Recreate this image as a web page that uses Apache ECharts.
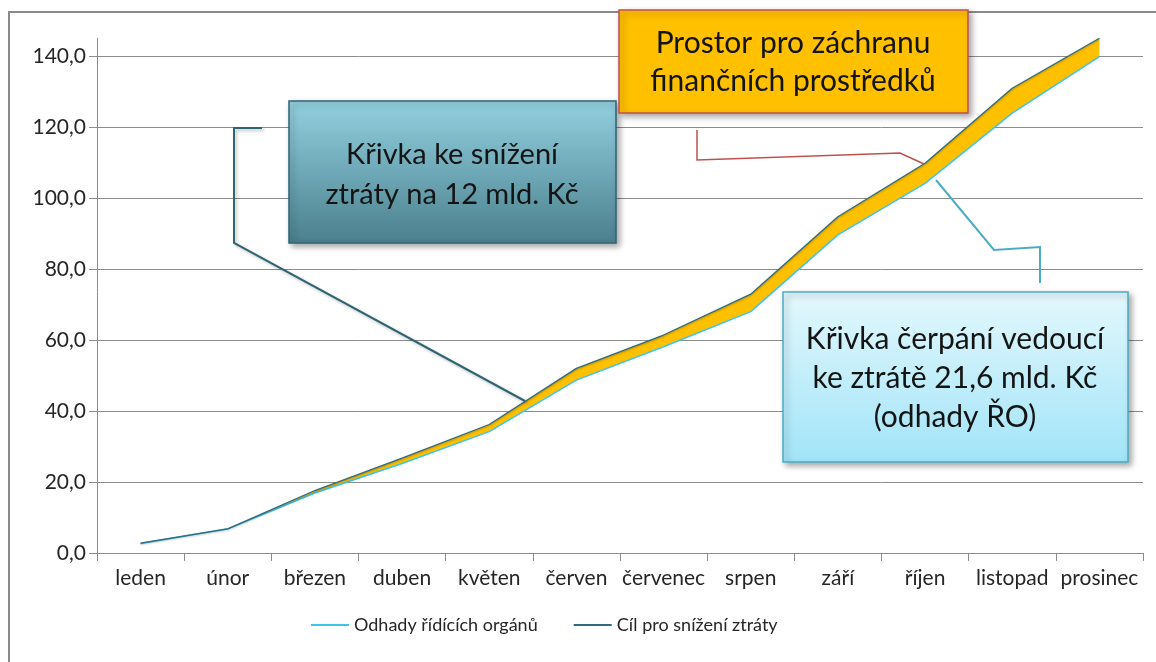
<!DOCTYPE html>
<html>
<head>
<meta charset="utf-8">
<script src="https://cdn.jsdelivr.net/npm/echarts@6/dist/echarts.min.js"></script>
<style>
  html, body { margin: 0; padding: 0; background: #fff; }
  #chart { width: 1156px; height: 662px; }
</style>
</head>
<body>
<div id="chart"></div>
<script>
// months on the x axis
const months = ['leden', 'únor', 'březen', 'duben', 'květen', 'červen', 'červenec', 'srpen', 'září', 'říjen', 'listopad', 'prosinec'];
// Odhady řídících orgánů (lower curve)
const odhady = [2.7, 6.8, 16.9, 25.2, 34.2, 48.7, 58.1, 68.0, 89.6, 104.1, 123.9, 139.8];
// Cíl pro snížení ztráty (upper curve)
const cil = [2.8, 6.8, 17.6, 26.7, 36.2, 52.0, 61.4, 72.9, 94.7, 109.8, 130.9, 145.0];
// y axis
const yTicks = [0, 20, 40, 60, 80, 100, 120, 140];
const yMax = 145;

const FONT = 'Lato';
const axisGrey = '#8c8c8c';
const lightBlue = '#3cc4ee';
const darkTeal = '#2f6b7d';

// yellow band = difference between the two curves, stacked on the lower one
const band = cil.map((v, i) => +(v - odhady[i]).toFixed(2));

const chart = echarts.init(document.getElementById('chart'));

const boxShadow = { shadowBlur: 6, shadowOffsetX: 3, shadowOffsetY: 3, shadowColor: 'rgba(0,0,0,0.35)' };

const option = {
  animation: false,
  grid: { left: 97, right: 13, top: 38.25, bottom: 109 },
  legend: {
    left: 306,
    top: 611,
    data: ['Odhady řídících orgánů', 'Cíl pro snížení ztráty'],
    icon: 'rect',
    itemWidth: 38,
    itemHeight: 2,
    itemGap: 36,
    textStyle: { fontFamily: FONT, fontSize: 18, color: '#262626' }
  },
  xAxis: {
    type: 'category',
    data: months,
    boundaryGap: true,
    axisLine: { lineStyle: { color: axisGrey, width: 1 } },
    axisTick: { show: true, length: 8, lineStyle: { color: axisGrey } },
    axisLabel: { fontFamily: FONT, fontSize: 21, color: '#262626', margin: 15, interval: 0 }
  },
  yAxis: {
    type: 'value',
    min: 0,
    max: yMax,
    axisLine: { show: true, lineStyle: { color: axisGrey, width: 1 } },
    axisTick: { show: true, length: 8, customValues: yTicks, lineStyle: { color: axisGrey } },
    axisLabel: {
      customValues: yTicks,
      fontFamily: FONT, fontSize: 21, color: '#262626', margin: 11,
      formatter: v => v.toFixed(1).replace('.', ',')
    },
    splitLine: { show: true, lineStyle: { color: axisGrey, width: 1 } }
  },
  series: [
    {
      name: 'base',
      type: 'line',
      stack: 'band',
      data: odhady,
      symbol: 'none',
      silent: true,
      lineStyle: { opacity: 0 },
      z: 2
    },
    {
      name: 'band',
      type: 'line',
      stack: 'band',
      data: band,
      symbol: 'none',
      silent: true,
      lineStyle: { opacity: 0 },
      areaStyle: { color: '#ffc000', opacity: 1 },
      z: 2
    },
    {
      name: 'Odhady řídících orgánů',
      type: 'line',
      data: odhady,
      symbol: 'none',
      clip: false,
      lineStyle: { color: lightBlue, width: 1.5 },
      itemStyle: { color: lightBlue },
      z: 3
    },
    {
      name: 'Cíl pro snížení ztráty',
      type: 'line',
      data: cil,
      symbol: 'none',
      clip: false,
      lineStyle: { color: darkTeal, width: 1.3, shadowBlur: 2, shadowColor: 'rgba(0,0,0,0.3)', shadowOffsetY: 1 },
      itemStyle: { color: darkTeal },
      z: 4
    }
  ],
  graphic: [
    // outer chart border
    { type: 'rect', z: -1, silent: true, shape: { x: 9, y: 12, width: 1200, height: 700 },
      style: { fill: 'none', stroke: '#8a8a8a', lineWidth: 2 } },

    // callout: target curve
    { type: 'polyline', z: 20, shape: { points: [[262, 128], [234, 128], [234, 243], [525, 401]] },
      style: { fill: 'none', stroke: '#2e6474', lineWidth: 2, shadowBlur: 3, shadowOffsetX: 2, shadowOffsetY: 2, shadowColor: 'rgba(0,0,0,0.25)' } },
    { type: 'rect', z: 21, shape: { x: 289, y: 101, width: 327, height: 142 },
      style: Object.assign({
        fill: new echarts.graphic.LinearGradient(0, 0, 0, 1, [
          { offset: 0, color: '#93d0df' }, { offset: 0.5, color: '#6fa8b6' }, { offset: 1, color: '#4b7f8d' }
        ]),
        stroke: '#2e6474', lineWidth: 1.5
      }, boxShadow) },
    { type: 'text', z: 22, style: { text: 'Křivka ke snížení\nztráty na 12 mld. Kč', x: 452, y: 175,
      textAlign: 'center', textVerticalAlign: 'middle', font: '29px Lato', lineHeight: 40, fill: '#141414' } },

    // callout: savings space
    { type: 'polyline', z: 20, shape: { points: [[697, 130], [697, 160], [900, 153], [924, 164]] },
      style: { fill: 'none', stroke: '#c0504d', lineWidth: 1.5 } },
    { type: 'rect', z: 21, shape: { x: 619, y: 10, width: 349, height: 103 },
      style: Object.assign({ fill: '#ffc000', stroke: '#c0504d', lineWidth: 1.5 }, boxShadow) },
    { type: 'text', z: 22, style: { text: 'Prostor pro záchranu\nfinančních prostředků', x: 793, y: 62,
      textAlign: 'center', textVerticalAlign: 'middle', font: '30px Lato', lineHeight: 38, fill: '#141414' } },

    // callout: estimates curve
    { type: 'polyline', z: 20, shape: { points: [[1040, 283], [1040, 247], [994, 250], [936, 180]] },
      style: { fill: 'none', stroke: '#4bacc6', lineWidth: 2 } },
    { type: 'rect', z: 21, shape: { x: 783, y: 292, width: 345, height: 170 },
      style: Object.assign({
        fill: new echarts.graphic.LinearGradient(0, 0, 0, 1, [
          { offset: 0, color: '#e3f8fd' }, { offset: 1, color: '#a2e4f8' }
        ]),
        stroke: '#4bacc6', lineWidth: 1.5
      }, boxShadow) },
    { type: 'text', z: 22, style: { text: 'Křivka čerpání vedoucí\nke ztrátě 21,6 mld. Kč\n(odhady ŘO)', x: 955, y: 378,
      textAlign: 'center', textVerticalAlign: 'middle', font: '30px Lato', lineHeight: 39, fill: '#141414' } }
  ]
};

chart.setOption(option);
window.addEventListener('resize', () => chart.resize());
</script>
</body>
</html>
